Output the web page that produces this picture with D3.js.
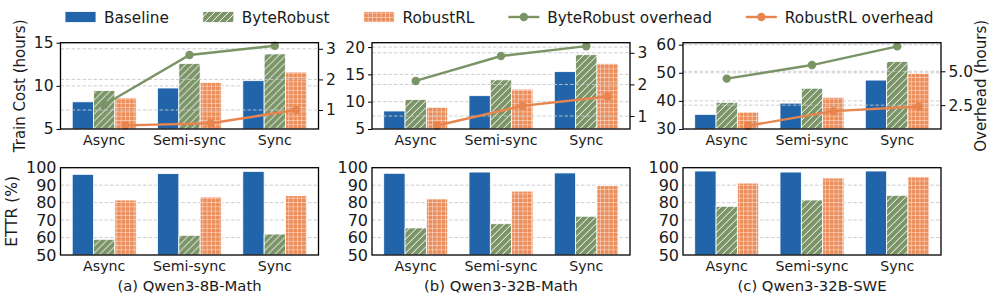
<!DOCTYPE html>
<html>
<head>
<meta charset="UTF-8">
<style>
  body { margin: 0; background: #fff; }
  text { font-family: "DejaVu Sans", sans-serif; fill: #1a1a1a; }
  .grid line { stroke: #c8c8c8; stroke-width: 0.9; stroke-dasharray: 3.5,2; }
  .frame { fill: none; stroke: #000; stroke-width: 1.3; }
</style>
</head>
<body>
<script src="https://cdn.jsdelivr.net/npm/d3@7/dist/d3.min.js"></script>
<script>
// ---- data ----
var categories = ["Async", "Semi-sync", "Sync"];
var series = ["Baseline", "ByteRobust", "RobustRL"];
var models = ["(a) Qwen3-8B-Math", "(b) Qwen3-32B-Math", "(c) Qwen3-32B-SWE"];

var costBaseline   = [[8.15, 9.75, 10.6], [8.3, 11.1, 15.5], [35.2, 39.2, 47.4]];
var costByteRobust = [[9.45, 12.6, 13.7], [10.4, 14.0, 18.6], [39.5, 44.5, 54.0]];
var costRobustRL   = [[8.6, 10.4, 11.6], [9.0, 12.3, 17.0], [36.0, 41.3, 49.8]];

var overheadByteRobust = [[1.17, 2.8, 3.1], [2.11, 2.9, 3.21], [4.46, 5.46, 6.84]];
var overheadRobustRL   = [[0.5, 0.57, 1.0], [0.7, 1.32, 1.62], [0.98, 2.06, 2.4]];

var ettrBaseline   = [[96.2, 96.6, 97.9], [96.8, 97.5, 97.0], [98.1, 97.5, 98.1]];
var ettrByteRobust = [[59.0, 61.3, 62.0], [65.5, 67.9, 72.2], [77.9, 81.5, 84.2]];
var ettrRobustRL   = [[81.5, 83.2, 84.0], [82.1, 86.6, 89.7], [91.2, 94.1, 94.7]];

var costDomains = [[5, 15], [5, 20.8], [30, 60.7]];
var costTicks = [[5, 10, 15], [5, 10, 15, 20], [30, 40, 50, 60]];
var overheadDomains = [[0.38, 3.2], [0.59, 3.32], [0.74, 7.11]];
var overheadTicks = [[1, 2, 3], [1, 2, 3], [2.5, 5.0]];
var overheadFormats = ["d", "d", ".1f"];
var ettrTicks = [50, 60, 70, 80, 90, 100];

// ---- look ----
var blue = "#2264a9", green = "#7b9468", orange = "#ec8e5b";
var lineGreen = "#7a9466", lineOrange = "#e8854f";

var width = 997, height = 300;
var panelX = [60.5, 372, 683], panelW = 258;
var topY = 42.7, topH = 86.3, botY = 167.7, botH = 87.3;

var svg = d3.select("body").append("svg").attr("width", width).attr("height", height);
var defs = svg.append("defs");

var hatch = defs.append("pattern").attr("id", "hatchGreen")
    .attr("patternUnits", "userSpaceOnUse").attr("width", 7).attr("height", 7);
hatch.append("rect").attr("width", 7).attr("height", 7).attr("fill", green);
hatch.append("path").attr("d", "M0,7L7,0M-1,1L1,-1M6,8L8,6")
    .attr("stroke", "#fff").attr("stroke-width", 1);

var gridPat = defs.append("pattern").attr("id", "gridOrange")
    .attr("patternUnits", "userSpaceOnUse").attr("width", 4.3).attr("height", 4.3);
gridPat.append("rect").attr("width", 4.3).attr("height", 4.3).attr("fill", orange);
gridPat.append("path").attr("d", "M0,0H4.3M0,0V4.3")
    .attr("stroke", "#fff").attr("stroke-width", 0.9).attr("opacity", 0.9);

var fills = [blue, "url(#hatchGreen)", "url(#gridOrange)"];

function drawBars(g, x, y, values) {
    var xs = d3.scaleBand().domain(series).range([0, x.bandwidth()]);
    categories.forEach(function(c, i) {
        series.forEach(function(s, k) {
            var v = values[k][i];
            g.append("rect")
                .attr("x", x(c) + xs(s))
                .attr("y", y(v))
                .attr("width", xs.bandwidth())
                .attr("height", y.range()[0] - y(v))
                .attr("fill", fills[k])
                .attr("stroke", "#fff")
                .attr("stroke-width", 0.8);
        });
    });
    return xs;
}

function gridLines(g, y, ticks, w) {
    g.append("g").attr("class", "grid")
        .selectAll("line").data(ticks).enter().append("line")
        .attr("x1", 0).attr("x2", w)
        .attr("y1", function(d) { return y(d); }).attr("y2", function(d) { return y(d); });
}

models.forEach(function(m, p) {
    // 3 bars of 0.25 units each per group, plus matplotlib-like margins
    var x = d3.scaleBand().domain(categories).range([0, panelW]).paddingInner(0.25).paddingOuter(0.1375);

    // ---------- top: train cost + overhead ----------
    var gt = svg.append("g").attr("transform", "translate(" + panelX[p] + "," + topY + ")");
    var yc = d3.scaleLinear().domain(costDomains[p]).range([topH, 0]);
    var yo = d3.scaleLinear().domain(overheadDomains[p]).range([topH, 0]);

    gridLines(gt, yc, costTicks[p].filter(function(t) { return t > costDomains[p][0]; }), panelW);
    var xs = drawBars(gt, x, yc, [costBaseline[p], costByteRobust[p], costRobustRL[p]]);
    gridLines(gt, yo, overheadTicks[p], panelW);

    var lines = [[overheadByteRobust[p], "ByteRobust", lineGreen], [overheadRobustRL[p], "RobustRL", lineOrange]];
    lines.forEach(function(l) {
        var px = function(d, i) { return x(categories[i]) + xs(l[1]) + xs.bandwidth() / 2; };
        var line = d3.line().x(px).y(function(d) { return yo(d); });
        gt.append("path").datum(l[0]).attr("d", line)
            .attr("fill", "none").attr("stroke", l[2]).attr("stroke-width", 2.4);
        gt.selectAll(null).data(l[0]).enter().append("circle")
            .attr("cx", px).attr("cy", function(d) { return yo(d); })
            .attr("r", 4.2).attr("fill", l[2]);
    });

    gt.append("rect").attr("class", "frame").attr("width", panelW).attr("height", topH);

    var la = gt.append("g").call(d3.axisLeft(yc).tickValues(costTicks[p]).tickSize(4).tickPadding(3));
    var ra = gt.append("g").attr("transform", "translate(" + panelW + ",0)")
        .call(d3.axisRight(yo).tickValues(overheadTicks[p]).tickFormat(d3.format(overheadFormats[p])).tickSize(4.5).tickPadding(3));
    var ba = gt.append("g").attr("transform", "translate(0," + topH + ")")
        .call(d3.axisBottom(x).tickSize(0).tickPadding(6));
    [la, ra, ba].forEach(function(a) {
        a.select(".domain").remove();
        a.selectAll("line").attr("stroke", "#000").attr("stroke-width", 1);
        a.selectAll("text").attr("font-size", 15.5).attr("fill", "#1a1a1a");
    });
    ba.selectAll("text").attr("font-size", 14.2);

    // ---------- bottom: ETTR ----------
    var gb = svg.append("g").attr("transform", "translate(" + panelX[p] + "," + botY + ")");
    var ye = d3.scaleLinear().domain([50, 100]).range([botH, 0]);
    gridLines(gb, ye, [60, 70, 80, 90], panelW);
    drawBars(gb, x, ye, [ettrBaseline[p], ettrByteRobust[p], ettrRobustRL[p]]);
    gb.append("rect").attr("class", "frame").attr("width", panelW).attr("height", botH);

    var le = gb.append("g").call(d3.axisLeft(ye).tickValues(ettrTicks).tickSize(0).tickPadding(4));
    var be = gb.append("g").attr("transform", "translate(0," + botH + ")")
        .call(d3.axisBottom(x).tickSize(0).tickPadding(6));
    [le, be].forEach(function(a) {
        a.select(".domain").remove();
        a.selectAll("text").attr("font-size", 16).attr("fill", "#1a1a1a");
    });
    be.selectAll("text").attr("font-size", 14.2);

    gb.append("text").attr("x", panelW / 2).attr("y", botH + 36)
        .attr("text-anchor", "middle").attr("font-size", 14.8).text(m);
});

// axis titles
svg.append("text").attr("transform", "translate(25," + (topY + topH / 2) + ") rotate(-90)")
    .attr("text-anchor", "middle").attr("font-size", 15).text("Train Cost (hours)");
svg.append("text").attr("transform", "translate(17," + (botY + botH / 2) + ") rotate(-90)")
    .attr("text-anchor", "middle").attr("font-size", 15.5).text("ETTR (%)");
svg.append("text").attr("transform", "translate(986," + (topY + topH / 2) + ") rotate(-90)")
    .attr("text-anchor", "middle").attr("font-size", 15).text("Overhead (hours)");

// legend
var legendItems = [
    {label: "Baseline", type: "bar", fill: fills[0]},
    {label: "ByteRobust", type: "bar", fill: fills[1]},
    {label: "RobustRL", type: "bar", fill: fills[2]},
    {label: "ByteRobust overhead", type: "line", color: lineGreen},
    {label: "RobustRL overhead", type: "line", color: lineOrange}
];
var lg = svg.append("g").attr("transform", "translate(65,17)");
var cursor = 0;
legendItems.forEach(function(it) {
    var g = lg.append("g").attr("transform", "translate(" + cursor + ",0)");
    if (it.type === "bar") {
        g.append("rect").attr("x", 0).attr("y", -5.5).attr("width", 31).attr("height", 11)
            .attr("fill", it.fill).attr("stroke", "#fff").attr("stroke-width", 0.8);
    } else {
        g.append("line").attr("x1", 0).attr("x2", 31).attr("y1", 0).attr("y2", 0)
            .attr("stroke", it.color).attr("stroke-width", 2.4);
        g.append("circle").attr("cx", 15.5).attr("cy", 0).attr("r", 4.2).attr("fill", it.color);
    }
    var t = g.append("text").attr("x", 39).attr("y", 5.5).attr("font-size", 15.3).text(it.label);
    cursor += 39 + t.node().getComputedTextLength() + 34;
});
</script>
</body>
</html>
